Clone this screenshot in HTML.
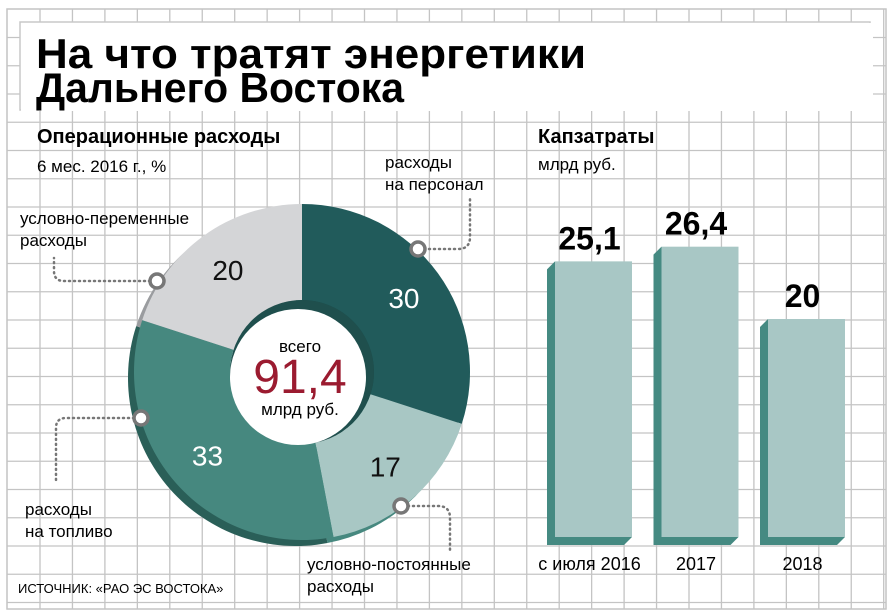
<!DOCTYPE html>
<html><head><meta charset="utf-8"><style>
body{margin:0;background:#fff}
svg{display:block;font-family:"Liberation Sans","Noto Sans CJK SC",sans-serif}
</style></head><body>
<svg id="c" width="894" height="616" viewBox="0 0 894 616">
<g id="grid"></g>
<rect x="20" y="22" width="850" height="88" fill="#fff" stroke="#c8c8c8" stroke-width="1.5"/>
<rect x="21" y="23" width="852" height="88" fill="#fff"/>
<text x="36" y="68" font-size="42" font-weight="900" textLength="550" lengthAdjust="spacingAndGlyphs">На что тратят энергетики</text>
<text x="36" y="102" font-size="42" font-weight="900" textLength="368" lengthAdjust="spacingAndGlyphs">Дальнего Востока</text>
<text x="37" y="143" font-size="20" font-weight="bold">Операционные расходы</text>
<text x="37" y="172" font-size="17">6 мес. 2016 г., %</text>
<text x="538" y="143" font-size="20" font-weight="bold">Капзатраты</text>
<text x="538" y="170" font-size="17">млрд руб.</text>
<g id="donut"></g>
<g id="bars"></g>
<g fill="none" stroke="#777" stroke-width="2.5" stroke-dasharray="1 4" stroke-linecap="round">
<path d="M424 249 H458 Q470 249 470 237 V196"/>
<path d="M150 281 H64 Q54 281 54 271 V258"/>
<path d="M134 418 H66 Q56 418 56 428 V482"/>
<path d="M408 506 H438 Q450 506 450 518 V552"/>
</g>
<g fill="#fff" stroke="#777" stroke-width="3.5">
<circle cx="418" cy="249" r="7"/><circle cx="157" cy="281" r="7"/><circle cx="141" cy="418" r="7"/><circle cx="401" cy="506" r="7"/>
</g>
<g font-size="17">
<text x="385" y="168">расходы</text><text x="385" y="190">на персонал</text>
<text x="20" y="224">условно-переменные</text><text x="20" y="246">расходы</text>
<text x="25" y="515">расходы</text><text x="25" y="537">на топливо</text>
<text x="307" y="570">условно-постоянные</text><text x="307" y="592">расходы</text>
</g>
<text x="18" y="593" font-size="13">ИСТОЧНИК: «РАО ЭС ВОСТОКА»</text>
</svg>
<script>
const sliceNames=["персонал","постоянные","топливо","переменные"];
const sliceValues=[30,17,33,20];
const total="91,4";
const barCategories=["с июля 2016","2017","2018"];
const barValues=[25.1,26.4,20];
const barLabels=["25,1","26,4","20"];

const NS="http://www.w3.org/2000/svg";
function mk(t,a,p){const e=document.createElementNS(NS,t);for(const k in a)e.setAttribute(k,a[k]);p.appendChild(e);return e;}
const g=document.getElementById('grid');
mk('rect',{x:7,y:9,width:879,height:600,fill:'#fff',stroke:'#c4c4c4','stroke-width':1.5},g);
for(let x=40;x<886;x+=32.45){mk('line',{x1:x,x2:x,y1:9,y2:609,stroke:'#c4c4c4','stroke-width':1.3},g);}
for(let y=37.5;y<609;y+=28.25){mk('line',{x1:7,x2:886,y1:y,y2:y,stroke:'#c4c4c4','stroke-width':1.3},g);}
const d=document.getElementById('donut');
const cx=302,cy=372,R=168,r=72;
const cols=["#215b5b","#a8c7c4","#46887f","#d4d5d7"];
const shade=["#1a4d4c","#46887f","#2a5f58","#9a9c9f"];
const labCol=["#fff","#111","#fff","#111"];
const tot=sliceValues.reduce((a,b)=>a+b,0);
function arc(a0,a1,ox,oy,R1,r1){
  const p=(a,rr)=>[cx+ox+rr*Math.sin(a),cy+oy-rr*Math.cos(a)];
  const big=(a1-a0)>Math.PI?1:0;
  const A=p(a0,R1),B=p(a1,R1),C=p(a1,r1),D=p(a0,r1);
  return `M${A} A${R1} ${R1} 0 ${big} 1 ${B} L${C} A${r1} ${r1} 0 ${big} 0 ${D}Z`;
}
let a=0;const angs=[];
sliceValues.forEach(v=>{const a1=a+v/tot*2*Math.PI;angs.push([a,a1]);a=a1;});
angs.forEach((an,i)=>{
  const s=mk('path',{d:arc(an[0],an[1],-6,6,R,r),fill:shade[i]},d);
  
  
});
angs.forEach((an,i)=>{
  const s=mk('path',{d:arc(an[0],an[1],0,0,R,r),fill:cols[i]},d);
  
  
});
mk('circle',{cx:cx,cy:cy,r:r,fill:'#1f4f4d'},d);
mk('circle',{cx:cx-4,cy:cy+5,r:r-4,fill:'#fff'},d);
angs.forEach((an,i)=>{
  const m=(an[0]+an[1])/2,rr=(R+r)/2+6;
  const t=mk('text',{x:cx+rr*Math.sin(m),y:cy-rr*Math.cos(m)+10,'font-size':28,'text-anchor':'middle',fill:labCol[i]},d);
  
  
  t.textContent=sliceValues[i];
});
const c1=mk('text',{x:cx-2,y:352,'font-size':17,'text-anchor':'middle'},d);


c1.textContent='всего';
const c2=mk('text',{x:cx-2,y:393,'font-size':48,'text-anchor':'middle',fill:'#9b1b30'},d);


c2.textContent=total;
const c3=mk('text',{x:cx-2,y:415,'font-size':17,'text-anchor':'middle'},d);


c3.textContent='млрд руб.';
const b=document.getElementById('bars');
const base=545,k=11.3,x0=555,step=106.5,bw=77,dep=8;
const y=v=>base-v*k;
barValues.forEach((v,i)=>{
  const x=x0+i*step,top=y(v);
  const sd=mk('path',{d:`M${x} ${top} L${x-dep} ${top+dep} L${x-dep} ${base} L${x+bw-dep} ${base} L${x+bw} ${base-dep} L${x} ${base-dep}Z`,fill:'#458a82'},b);
  
  
  const r1=mk('rect',{x:x,y:top,width:bw,height:base-dep-top,fill:'#a8c7c5'},b);
  
  
  const t=mk('text',{x:x+bw/2-4,y:top-12,'font-size':32,'font-weight':'bold','text-anchor':'middle'},b);
  
  
  t.textContent=barLabels[i];
  const c=mk('text',{x:x+bw/2-4,y:570,'font-size':18,'text-anchor':'middle'},b);
  
  
  c.textContent=barCategories[i];
});
</script>
</body></html>
